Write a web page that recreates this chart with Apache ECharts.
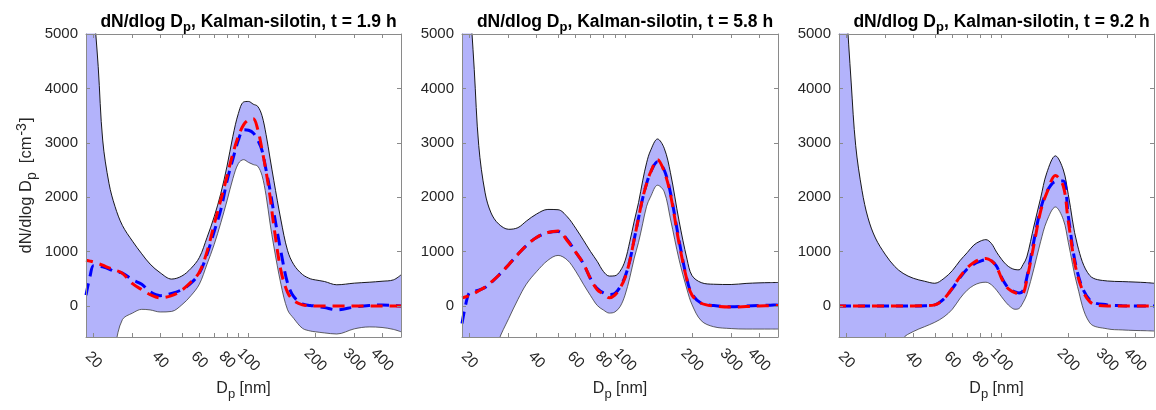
<!DOCTYPE html>
<html><head><meta charset="utf-8">
<script src="https://cdn.jsdelivr.net/npm/echarts@6/dist/echarts.min.js"></script>
<style>html,body{margin:0;padding:0;background:#fff}#c{width:1156px;height:410px}</style>
</head><body><div id="c"></div>
<script>
// ---------- data ----------
const diameters = [18.5, 19.3, 20, 21, 22, 23.5, 25, 27, 30, 33, 36, 40, 45, 50, 55, 60, 65, 70, 75, 80, 85, 90, 95, 100, 105, 110, 115, 120, 125, 130, 140, 150, 160, 175, 190, 200, 220, 250, 300, 350, 400, 450, 487];

const titles = ['dN/dlog D{sub|p}, Kalman-silotin, t = 1.9 h', 'dN/dlog D{sub|p}, Kalman-silotin, t = 5.8 h', 'dN/dlog D{sub|p}, Kalman-silotin, t = 9.2 h'];
const yTickValues = [0, 1000, 2000, 3000, 4000, 5000];
const xLabelValues = [20, 40, 60, 80, 100, 200, 300, 400];
const xTickValues = [20, 30, 40, 50, 60, 70, 80, 90, 100, 200, 300, 400];

// panel 1 (t = 1.9 h)
const upper1 = [9000, 7000, 5600, 4400, 3050, 2250, 1830, 1480, 1190, 960, 770, 610, 495, 550, 690, 890, 1260, 1640, 2070, 2570, 3120, 3540, 3750, 3760, 3710, 3670, 3500, 3150, 2720, 2310, 1580, 1020, 760, 580, 500, 480, 450, 390, 420, 437, 455, 480, 572];
const lower1 = [-4000, -3500, -3000, -2400, -1900, -1300, -750, -250, -130, -62, -72, -110, -100, 20, 190, 400, 770, 1130, 1530, 1935, 2340, 2620, 2690, 2640, 2600, 2570, 2400, 2030, 1525, 1100, 400, -70, -230, -410, -460, -474, -495, -515, -420, -385, -395, -430, -474];
const blue1 = [200, 550, 740, 740, 720, 680, 630, 605, 480, 400, 260, 190, 230, 300, 420, 600, 950, 1370, 1770, 2300, 2700, 3050, 3240, 3230, 3180, 3050, 2860, 2500, 2130, 1720, 1000, 420, 170, 40, 10, 0, -30, -70, -20, 10, 20, 10, 0];
const red1 = [840, 825, 810, 780, 750, 700, 660, 600, 410, 300, 210, 150, 190, 290, 440, 620, 1000, 1500, 1950, 2386, 2800, 3120, 3330, 3420, 3440, 3250, 2880, 2470, 2017, 1480, 650, 250, 100, 20, 5, 0, 0, 0, 0, 0, 0, 0, 0];

// panel 2 (t = 5.8 h)
const upper2 = [9500, 7500, 5800, 4350, 2950, 2080, 1710, 1510, 1410, 1440, 1560, 1690, 1775, 1770, 1640, 1430, 1210, 1000, 820, 633, 550, 555, 640, 830, 1180, 1560, 1900, 2300, 2632, 2850, 3070, 2900, 2450, 1560, 860, 560, 430, 400, 395, 415, 425, 430, 432];
const lower2 = [-6000, -5000, -4000, -3000, -2300, -1700, -1150, -640, -230, 120, 400, 630, 840, 930, 845, 640, 400, 190, 10, -75, -130, -110, -12, 200, 520, 880, 1170, 1510, 1833, 2000, 2220, 2100, 1600, 850, 300, 25, -270, -381, -415, -424, -424, -424, -424];
const blue2 = [-320, 60, 250, 270, 290, 340, 430, 560, 760, 950, 1110, 1260, 1350, 1370, 1220, 990, 780, 500, 320, 240, 210, 230, 350, 540, 830, 1230, 1620, 1980, 2250, 2450, 2650, 2500, 2080, 1200, 480, 220, 50, 10, -15, 0, 10, 15, 20];
const red2 = [150, 170, 190, 230, 280, 350, 440, 560, 760, 950, 1110, 1260, 1350, 1380, 1200, 990, 780, 500, 300, 220, 150, 200, 330, 520, 830, 1230, 1620, 1980, 2250, 2450, 2690, 2470, 2050, 1150, 470, 200, 50, 0, -20, -10, 0, 5, 10];

// panel 3 (t = 9.2 h)
const upper3 = [9000, 7000, 5500, 4100, 2950, 2120, 1620, 1250, 940, 726, 600, 510, 455, 418, 507, 650, 835, 980, 1120, 1190, 1220, 1150, 990, 860, 760, 700, 670, 665, 760, 900, 1470, 1980, 2448, 2760, 2500, 2050, 1120, 560, 460, 449, 440, 430, 418];
const lower3 = [-9000, -8000, -7000, -6000, -5000, -4000, -3200, -2400, -1600, -1100, -600, -470, -380, -300, -200, -60, 140, 290, 380, 425, 437, 390, 290, 170, 60, -20, -60, -45, 60, 210, 690, 1180, 1560, 1820, 1587, 1170, 360, -310, -420, -440, -450, -455, -461];
const blue3 = [0, 0, 0, 0, 0, 0, 0, 0, 0, 0, 0, 0, 5, 20, 130, 320, 520, 680, 770, 820, 850, 830, 730, 530, 380, 300, 260, 240, 280, 520, 1200, 1780, 2100, 2290, 2300, 1650, 620, 110, 20, 5, 0, 0, 0];
const red3 = [0, 0, 0, 0, 0, 0, 0, 0, 0, 0, 0, 0, 5, 20, 130, 330, 540, 700, 800, 855, 875, 830, 720, 510, 357, 283, 246, 220, 234, 480, 1125, 1740, 2080, 2400, 2200, 1556, 572, 80, 0, 0, 0, 0, 0];

const panels = [
  {upper: upper1, lower: lower1, blue: blue1, red: red1},
  {upper: upper2, lower: lower2, blue: blue2, red: red2},
  {upper: upper3, lower: lower3, blue: blue3, red: red3}
];

// ---------- layout ----------
const FONT = "'Liberation Sans', Arial, Helvetica, sans-serif";
const gridBoxes = [
  {left: 86, top: 34, width: 315, height: 303},
  {left: 462, top: 34, width: 316, height: 303},
  {left: 839, top: 34, width: 315, height: 303}
];
const lg = v => Math.log10(v);
const X_MIN = lg(18.5), X_MAX = lg(487);
const Y_MIN = -570, Y_MAX = 5000;
const AX_COLOR = '#8a8a8a';
const TXT = '#262626';
const BAND = '#b3b3fb';

const option = {
  animation: false,
  backgroundColor: '#fff',
  textStyle: {fontFamily: FONT},
  title: [], grid: [], xAxis: [], yAxis: [], series: []
};

panels.forEach((p, i) => {
  const g = gridBoxes[i];
  option.grid.push(Object.assign({containLabel: false}, g));
  option.title.push({
    text: titles[i],
    left: g.left + g.width / 2,
    top: 5,
    textAlign: 'center',
    textStyle: {
      fontFamily: FONT, fontSize: 17.5, fontWeight: 'bold', color: '#000',
      rich: {sub: {fontFamily: FONT, fontSize: 13, fontWeight: 'bold', color: '#000', padding: [11, 0, 0, 0]}}
    }
  });
  const xCommon = {
    type: 'value', gridIndex: i, min: X_MIN, max: X_MAX, z: 10,
    splitLine: {show: false},
    axisLine: {show: true, onZero: false, lineStyle: {color: AX_COLOR, width: 1}},
    axisTick: {show: true, inside: true, length: 4, lineStyle: {color: AX_COLOR}, customValues: xTickValues.map(lg)},
  };
  option.xAxis.push(Object.assign({}, xCommon, {
    position: 'bottom',
    name: 'D{sub|p} [nm]', nameLocation: 'middle', nameGap: 40, nameMoveOverlap: false,
    nameTextStyle: {fontFamily: FONT, fontSize: 16, color: TXT,
      rich: {sub: {fontFamily: FONT, fontSize: 13, color: TXT, padding: [11, 0, 0, 0]}}},
    axisLabel: {
      show: true, rotate: -45, align: 'center', verticalAlign: 'middle', margin: 23,
      fontFamily: FONT, fontSize: 15, color: TXT, customValues: xLabelValues.map(lg),
      formatter: v => String(Math.round(Math.pow(10, v)))
    }
  }));
  option.xAxis.push(Object.assign({}, xCommon, {position: 'top', axisLabel: {show: false}}));
  const yCommon = {
    type: 'value', gridIndex: i, min: Y_MIN, max: Y_MAX, z: 10,
    splitLine: {show: false},
    axisLine: {show: true, onZero: false, lineStyle: {color: AX_COLOR, width: 1}},
    axisTick: {show: true, inside: true, length: 4, lineStyle: {color: AX_COLOR}, customValues: yTickValues}
  };
  const yLeft = Object.assign({}, yCommon, {
    position: 'left',
    axisLabel: {show: true, margin: 8, fontFamily: FONT, fontSize: 15, color: TXT, customValues: yTickValues,
      formatter: v => String(v)}
  });
  if (i === 0) {
    Object.assign(yLeft, {
      name: 'dN/dlog D{sub|p}  [cm{sup|-3}]', nameLocation: 'middle', nameGap: 47, nameRotate: 90, nameMoveOverlap: false,
      nameTextStyle: {fontFamily: FONT, fontSize: 16.5, color: TXT,
        rich: {sub: {fontFamily: FONT, fontSize: 14, color: TXT, padding: [11, 0, 0, 0]},
               sup: {fontFamily: FONT, fontSize: 14, color: TXT, padding: [0, 1, 9, 1]}}}
    });
  }
  option.yAxis.push(yLeft);
  option.yAxis.push(Object.assign({}, yCommon, {position: 'right', axisLabel: {show: false}}));

  const xi = 2 * i, yi = 2 * i;
  const pts = arr => diameters.map((d, k) => [lg(d), arr[k]]);
  const sm = 0.35;
  // band: upper curve filled down to the axis start, lower curve filled white down to the axis start
  option.series.push({
    type: 'line', xAxisIndex: xi, yAxisIndex: yi, data: pts(p.upper),
    symbol: 'none', smooth: sm,
    lineStyle: {color: '#000', width: 0.9},
    areaStyle: {color: BAND, opacity: 1, origin: 'start'}, z: 2, silent: true
  });
  option.series.push({
    type: 'line', xAxisIndex: xi, yAxisIndex: yi, data: pts(p.lower),
    symbol: 'none', smooth: sm,
    lineStyle: {color: '#3a3a3a', width: 0.8},
    areaStyle: {color: '#ffffff', opacity: 1, origin: 'start'}, z: 2, silent: true
  });
  option.series.push({
    type: 'line', xAxisIndex: xi, yAxisIndex: yi, data: pts(p.blue),
    symbol: 'none', smooth: sm,
    lineStyle: {color: '#0000ff', width: 3, type: [12, 7]}, z: 3, silent: true
  });
  option.series.push({
    type: 'line', xAxisIndex: xi, yAxisIndex: yi, data: pts(p.red),
    symbol: 'none', smooth: sm,
    lineStyle: {color: '#ff0000', width: 3, type: [12, 7], dashOffset: 5}, z: 4, silent: true
  });
});

const chart = echarts.init(document.getElementById('c'), null, {renderer: 'canvas'});
chart.setOption(option);
</script></body></html>
